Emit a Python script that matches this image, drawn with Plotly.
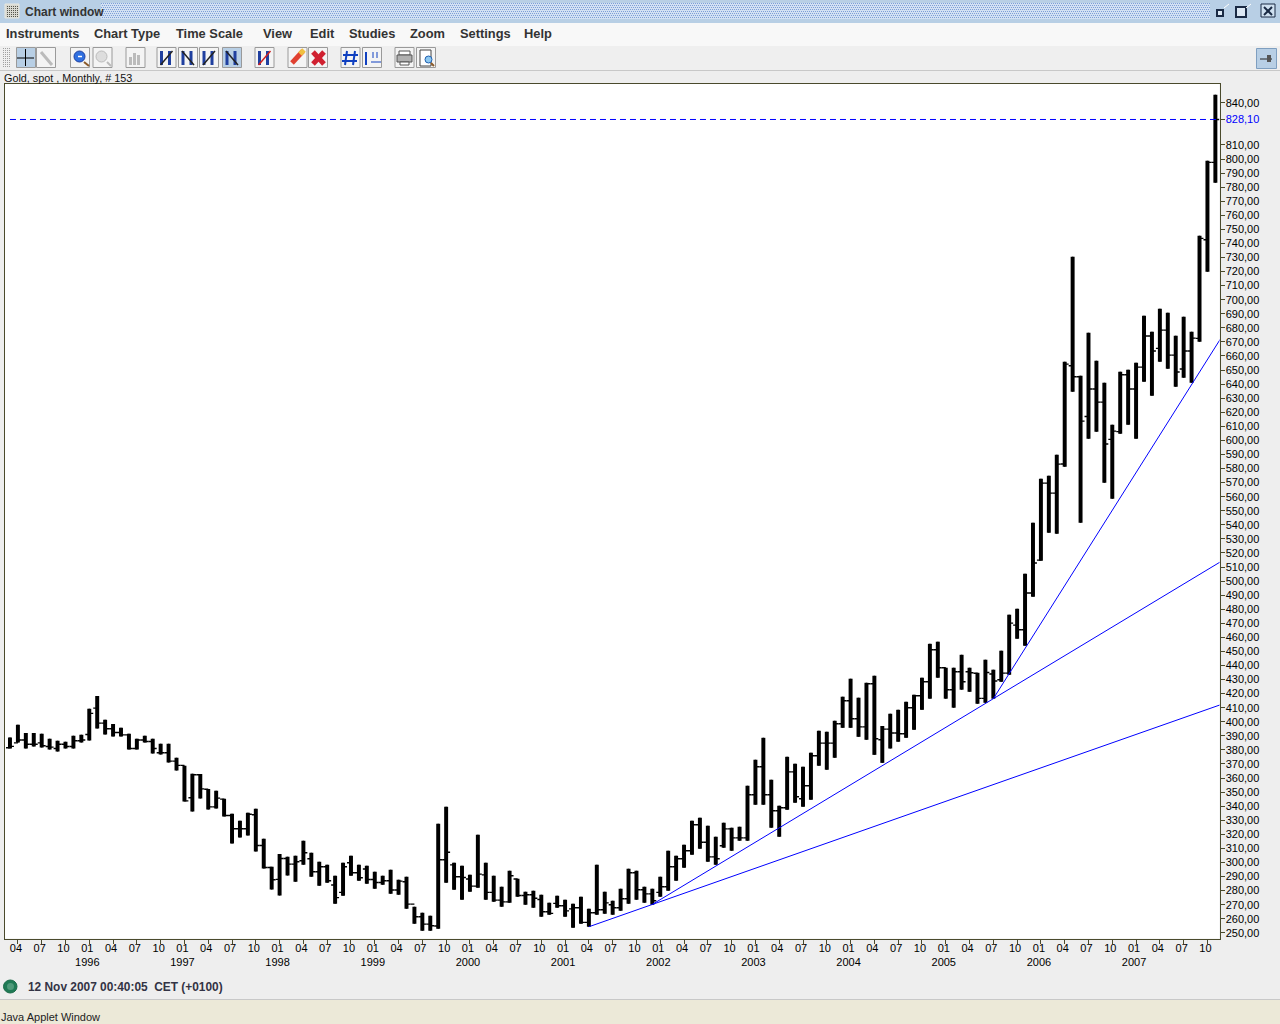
from plotly import graph_objects as go

# monthly gold bars, 1995-03 to 2007-11
opens = [381.5, 385, 387, 384, 385, 382.4, 381, 384, 382.4, 386.5, 391, 409.7, 399, 395, 392.4, 390.7, 381, 387, 386, 378,
         378, 372, 369, 346, 362.3, 352, 339.5, 345, 333.4, 324, 324, 333.9, 312, 296.4, 288, 302.8, 298.8, 301.2, 302.6, 293.4,
         297, 284, 278.7, 299.8, 292.7, 295.3, 287.9, 285.8, 287, 280.4, 286.3, 270.4, 261.4, 256.2, 254.8, 301.9, 298.3, 289.8, 288.2, 283.2,
         291.2, 278.7, 273.2, 272, 288.2, 276.5, 277, 273.7, 265, 270.9, 269.2, 267, 267.8, 257.4, 264.2, 266.4, 269.9, 267.8, 274.2, 292.7,
         280.6, 277.7, 278.7, 282.7, 297, 302.6, 308.3, 326.8, 314.4, 304, 311.9, 323.9, 317.5, 317.5, 348.1, 368, 348.1, 336.7, 338.9, 364.4,
         345.3, 354.5, 375.8, 384.8, 384.8, 398.6, 414.9, 402.1, 396.4, 427, 387.2, 394.8, 392, 391.5, 410, 418.5, 428.4, 451.2, 438.4, 422.8,
         435.5, 435.5, 434.5, 416.6, 433.9, 429.9, 434.6, 468.7, 465.4, 491.5, 514.9, 569.6, 562.5, 583.2, 653, 645.2, 617, 636.5, 627.2, 600.7,
         606.2, 646.7, 636.5, 652.1, 674.2, 665.4, 678.4, 660.6, 650.7, 663.5, 672.5, 742.6, 797.6]
highs = [388.8, 397.8, 392.1, 392.1, 391.4, 387.9, 386.5, 385.8, 390, 390.7, 409.2, 418.4, 401.4, 398.5, 395.7, 391.4, 387.9, 390, 387.9, 384.3,
         384.3, 374.4, 368.7, 363, 362.8, 352.3, 350.9, 345.2, 334.6, 329.6, 335.3, 338.1, 316.8, 296.9, 306.1, 304, 304.7, 315.4, 306.9, 300.5,
         298.3, 290.5, 299.8, 304.7, 298.3, 297.6, 293.4, 290.5, 294.8, 287.7, 289.8, 268.5, 264.2, 262.1, 327.5, 339.6, 299.8, 297.6, 291.2, 319.7,
         299.8, 290.5, 282.7, 294.1, 288.4, 279.2, 279.9, 277, 271.3, 276.3, 273.5, 270.6, 275.6, 267.1, 298.3, 279.2, 272.8, 281.3, 295.5, 294.1,
         282.7, 281.3, 289.8, 308.3, 304.8, 312.6, 329.6, 331.8, 326.1, 318.3, 328.2, 324.7, 325.4, 354.5, 373, 388.6, 358.8, 340.3, 375.1, 370.1,
         368, 378, 393.6, 392.9, 400.7, 417.8, 430.6, 417.1, 427.7, 432.7, 397, 405.7, 408.5, 414.2, 419.2, 431.3, 455.4, 456.9, 438.4, 438.4,
         447.6, 438.4, 434.8, 444.1, 437, 450.5, 476.1, 480.3, 505.2, 541.4, 572.7, 574.8, 589.8, 655.9, 730.5, 646, 676.5, 656.6, 641, 611.1,
         648.8, 650.2, 655.2, 688.6, 677.2, 693.6, 690.7, 674.4, 687.9, 677.2, 745.5, 798.8, 845.7]
lows = [381, 385.3, 381, 382.4, 381.7, 380.3, 378.9, 381, 381, 385.3, 386.7, 395.2, 391, 389.5, 389.5, 380.3, 380.3, 385.3, 377.5, 376.7,
        371, 365.4, 343.3, 336.2, 345.5, 337.6, 338.3, 332.7, 313.5, 317.8, 319.2, 307.8, 295.7, 280.8, 276.5, 290.8, 286.3, 298.3, 289.8, 283.4,
        285.6, 270.6, 276.3, 290.5, 287, 284.8, 281.3, 284.1, 277.7, 277, 267.1, 256.4, 251.4, 251.4, 252.9, 285.6, 280.6, 273.5, 279.2, 282,
        273.5, 272, 268.5, 271.3, 275.6, 269.9, 267.8, 261.4, 262.8, 267.8, 261.4, 253.6, 256.4, 254.3, 262.8, 263.5, 262.8, 265.6, 270.6, 273.5,
        271.3, 269.9, 275.6, 279.9, 287, 296.2, 305.5, 309.7, 300.5, 298.4, 310.4, 308.3, 315.4, 315.4, 341, 341, 324.6, 318.3, 337.4, 342.4,
        339.6, 344.6, 368.7, 365.9, 374.4, 395.7, 395.7, 389.3, 387.2, 376.5, 370.8, 381, 385.8, 388.6, 394.3, 408.5, 416.4, 431.3, 416.4, 410,
        422.8, 421.3, 412.8, 413.5, 416.4, 428.4, 433.4, 459, 454, 488.9, 514.4, 534.3, 533.6, 581.3, 634.6, 541.5, 601.2, 606.2, 569.9, 558.5,
        604.7, 611.1, 601.2, 641.7, 631.7, 655.9, 650.9, 638.1, 644.5, 641, 670.1, 719.9, 783.1]
closes = [382.5, 387, 384, 384, 383, 382, 384, 382.4, 386.5, 387, 406, 399, 395, 392.4, 390.7, 381, 387, 386, 381, 378,
          372, 369, 343.8, 362.3, 352.3, 339.5, 345.7, 333.4, 324, 324, 334.3, 312, 296.4, 287.7, 302.8, 298.8, 300.5, 306.9, 293.4, 297,
          287, 275, 296.9, 292.7, 289.1, 287.9, 285.8, 287, 280.4, 286.7, 270.4, 261.4, 256.2, 255, 301.9, 307.3, 289.8, 289.3, 283.2, 291.7,
          278.7, 273.2, 272, 290.5, 276.5, 277, 274.6, 265, 263.8, 269.2, 265.6, 267.8, 257.4, 264.2, 266.4, 271.3, 267.8, 274.2, 292.7, 280.6,
          277.7, 272.8, 282.7, 297, 302.6, 308.3, 326.8, 314.4, 304, 302.6, 323.9, 317.5, 317.5, 348.1, 368, 348.1, 336.7, 338.9, 364.4, 346.7,
          354.5, 375.8, 384.8, 384.8, 398.6, 414.9, 402.1, 396.4, 427, 387.9, 394.8, 392, 391.5, 410, 418.5, 428.4, 451.2, 438.4, 422.8, 435.5,
          428.4, 434.8, 416.6, 435, 429, 434.6, 470.1, 465.4, 491.5, 512.8, 569.6, 562.5, 583.1, 654.2, 645.2, 613.7, 636.5, 627.2, 597.4, 606.6,
          646.7, 636.5, 652.1, 674.2, 663.5, 678.4, 660.6, 648.6, 663.5, 672.7, 743.6, 797.6, 828.1]
bar_index = list(range(len(opens)))

last_price = 828.10

# hand drawn trend lines, (bar index, price) at both ends
line_a_x = [73, 152.65]
line_a_y = [254.3, 412.1]
line_b1_x = [81, 124]
line_b1_y = [270.2, 416.4]
line_b2_x = [124, 152.65]
line_b2_y = [416.4, 513.7]
line_c_x = [124, 152.65]
line_c_y = [416.4, 672.2]

price_ticks = [p for p in range(250, 850, 10) if p not in (820, 830)]
month_names = ["03", "04", "05", "06", "07", "08", "09", "10", "11", "12", "01", "02"]
first_full_year = 1996

tick_vals = []
tick_text = []
for i in bar_index:
    m = month_names[i % 12]
    if m in ("01", "04", "07", "10"):
        tick_vals.append(i)
        if m == "01":
            tick_text.append("01<br>%d" % (first_full_year + (i - 10) // 12))
        else:
            tick_text.append(m)

FONT = "Liberation Sans"
BG = "#eeeeee"
AXIS = "#4a4a2c"
BLUE = "#0000ff"


def px(x):
    return x / 1280


def py(y):
    return 1 - y / 1024


shapes = []
annotations = []


def rect(x0, y0, x1, y1, fill, line=None, width=1):
    shapes.append(dict(type="rect", xref="paper", yref="paper", x0=px(x0), y0=py(y0), x1=px(x1), y1=py(y1),
                       fillcolor=fill, line=dict(color=line or fill, width=width if line else 0)))


def seg(x0, y0, x1, y1, color, width=1, dash="solid"):
    shapes.append(dict(type="line", xref="paper", yref="paper", x0=px(x0), y0=py(y0), x1=px(x1), y1=py(y1),
                       line=dict(color=color, width=width, dash=dash)))


def circle(x0, y0, x1, y1, fill, line=None, width=1):
    shapes.append(dict(type="circle", xref="paper", yref="paper", x0=px(x0), y0=py(y0), x1=px(x1), y1=py(y1),
                       fillcolor=fill, line=dict(color=line or fill, width=width if line else 0)))


def label(x, y, text, size=11, color="black", bold=False):
    annotations.append(dict(xref="paper", yref="paper", x=px(x), y=py(y), text="<b>%s</b>" % text if bold else text,
                            showarrow=False, xanchor="left", yanchor="middle", borderpad=0, borderwidth=0,
                            font=dict(family=FONT, size=size, color=color)))


# window title bar
rect(0, 0, 1280, 23, "#b8cfe5")
rect(101, 3, 1210, 19, "#d3e1f3")
for n, gy in enumerate(range(3, 19, 2)):
    seg(101 + n % 2, gy + 0.5, 1210, gy + 0.5, "#7d9fd8", 1, "1px,1px")
rect(5, 4, 19, 18, "#d8d8d0", "#e8e8e0")
for gy in range(6, 18, 2):
    seg(7, gy + 0.5, 18, gy + 0.5, "#55554c", 1, "1px,1px")
label(25, 12, "Chart window", 12, "#333333", True)
rect(1217, 10, 1223, 16, "#dce8f4", "#1a2a44", 2)
seg(1224, 8, 1229, 4, "#ffffff", 1)
rect(1236, 7, 1246, 17, "#dce8f4", "#1a2a44", 2)
seg(1246, 8, 1251, 4, "#ffffff", 1)
rect(1261, 4, 1275, 17, "#cfe0f0", "#1a2a44", 1)
seg(1264, 7, 1272, 15, "#1a2a44", 2)
seg(1272, 7, 1264, 15, "#1a2a44", 2)

# menu and tool bars
rect(0, 23, 1280, 46, "#f8f8f8")
rect(0, 46, 1280, 70, "#efefef")
seg(0, 70.5, 1280, 70.5, "#c8c8c8", 1)
for gy in range(48, 68, 2):
    seg(3, gy + 0.5, 11, gy + 0.5, "#a0a0a0", 1, "1px,1px")
menu_items = ["Instruments", "Chart Type", "Time Scale", "View", "Edit", "Studies", "Zoom", "Settings", "Help"]
menu_x = [6, 94, 176, 263, 310, 349, 410, 460, 524]
for name, mx in zip(menu_items, menu_x):
    label(mx, 33.5, name, 12.85, "#333333", True)


def button(x, selected=False):
    rect(x + 0.5, 47.5, x + 19.5, 67.5, "#b8cfe5" if selected else "#f4f4f4", "#9a9a9a", 1)


def bars_icon(x, flip, color="#1f3f9f", slash="#222222"):
    for dx in (5, 13):
        seg(x + dx, 51, x + dx, 65, color, 3)
    if flip:
        seg(x + 4, 51, x + 16, 65, slash, 1.5)
    else:
        seg(x + 4, 65, x + 16, 51, slash, 1.5)


button(16, True)
seg(25.5, 49, 25.5, 66, "black", 1)
seg(17, 58, 34, 58, "black", 1)
button(36)
seg(41, 52, 52, 65, "#bbbbbb", 3)
button(66 + 4)
circle(74, 51, 85, 62, "#2f6fe0", "#1f3f9f", 1)
seg(78, 56.5, 82, 56.5, "white", 1.5)
seg(84, 62, 89, 66, "#8a5a2a", 2)
button(92.5)
circle(96, 51, 107, 62, "#dddddd", "#bbbbbb", 1)
seg(107, 62, 111, 66, "#bbbbbb", 2)
button(125.5)
for dx, top in ((5, 57), (9, 53), (13, 55)):
    seg(125.5 + dx, top, 125.5 + dx, 65, "#bbbbbb", 3)
for bx, flip, sel in ((156.5, False, False), (178, True, False), (199, False, False), (222, True, True)):
    button(bx, sel)
    bars_icon(bx, flip)
button(254.5)
bars_icon(254.5, False, slash="#d02020")
button(287.5)
seg(292, 63, 303, 51, "#e04030", 5)
seg(300, 54, 304, 50, "#f0c040", 5)
button(308)
seg(313, 52, 324, 64, "#d02030", 5)
seg(324, 52, 313, 64, "#d02030", 5)
button(340.5)
seg(347, 51, 345, 65, "#1040c0", 2)
seg(355, 51, 353, 65, "#1040c0", 2)
seg(343, 55, 358, 55, "#1040c0", 2)
seg(342, 61, 357, 61, "#1040c0", 2)
button(362)
seg(366, 52, 366, 65, "#1040c0", 2)
seg(373, 52, 373, 58, "#1040c0", 1)
seg(377, 52, 377, 58, "#1040c0", 1)
seg(371, 62, 381, 62, "#1040c0", 1)
button(394.5)
rect(399, 51, 410, 55, "#ffffff", "#555555", 1)
rect(397, 55, 412, 62, "#b0b0b0", "#555555", 1)
rect(400, 62, 409, 65, "#ffffff", "#555555", 1)
button(416)
rect(420, 50, 431, 66, "#ffffff", "#444444", 1)
circle(425, 56, 432, 63, "#8ec8f0", "#1f5fb0", 1)
seg(431, 63, 434, 66, "#8a5a2a", 2)
rect(1256.5, 48.5, 1276.5, 68.5, "#b8cfe5", "#7f9fc0", 1)
seg(1260, 59, 1272, 59, "#222222", 1)
rect(1267, 55, 1271, 62, "#555555")

label(4, 78, "Gold, spot , Monthly, # 153", 10.8, "#111111")

# status bar
seg(0, 999.5, 1280, 999.5, "#c8c8c8", 1)
rect(0, 1000, 1280, 1024, "#ece9d8")
circle(3.5, 980, 17, 993, "#1f7a55", "#1a6a48", 1)
circle(7, 983, 14, 990, "#4f9a7a")
label(28, 986.5, "12 Nov 2007 00:40:05  CET (+0100)", 11.9, "#333344", True)
label(1, 1016.5, "Java Applet Window", 11, "#222222")

fig = go.Figure()
fig.add_trace(go.Scatter(x=[0, 152.65], y=[last_price, last_price], mode="lines",
                         line=dict(color=BLUE, width=1, dash="6px,4px"), hoverinfo="skip"))
fig.add_trace(go.Bar(x=bar_index, base=lows, y=[h - l for h, l in zip(highs, lows)], width=0.5,
                     marker=dict(color="black", line=dict(width=0)), hoverinfo="skip"))
fig.add_trace(go.Ohlc(x=bar_index, open=opens, high=highs, low=lows, close=closes, tickwidth=0.5,
                      increasing=dict(line=dict(color="black", width=1.4)),
                      decreasing=dict(line=dict(color="black", width=1.4)), hoverinfo="skip"))
for lx, ly in ((line_a_x, line_a_y), (line_b1_x, line_b1_y), (line_b2_x, line_b2_y), (line_c_x, line_c_y)):
    fig.add_trace(go.Scatter(x=lx, y=ly, mode="lines", line=dict(color=BLUE, width=1), hoverinfo="skip"))

y_vals = price_ticks + [last_price]
y_text = ["%d,00" % p for p in price_ticks] + ['<span style="color:#0000ff">828,10</span>']

fig.update_layout(
    width=1280, height=1024, autosize=False, showlegend=False,
    margin=dict(l=0, r=0, t=0, b=0),
    paper_bgcolor=BG, plot_bgcolor="white",
    font=dict(family=FONT, size=11, color="black"),
    shapes=shapes, annotations=annotations,
    xaxis=dict(domain=[px(4.5), px(1219.5)], range=[-0.69, 152.52], tickmode="array", tickvals=tick_vals,
               ticktext=tick_text, ticks="outside", ticklen=4, tickcolor=AXIS, tickangle=0,
               ticklabelstandoff=-5, ticklabelshift=-2,
               showgrid=False, zeroline=False, showline=True, linecolor=AXIS, linewidth=1, mirror=True,
               rangeslider=dict(visible=False), automargin=False),
    yaxis=dict(domain=[py(938.5), py(83.5)], range=[245.95, 853.67], side="right", tickmode="array",
               tickvals=y_vals, ticktext=y_text, ticks="outside", ticklen=4, tickcolor=AXIS,
               ticklabelstandoff=-1,
               showgrid=False, zeroline=False, showline=True, linecolor=AXIS, linewidth=1, mirror=True,
               automargin=False),
)

fig.write_html("out.html", config={"displayModeBar": False},
               post_script="document.body.style.margin='0';document.body.style.overflow='hidden';")
